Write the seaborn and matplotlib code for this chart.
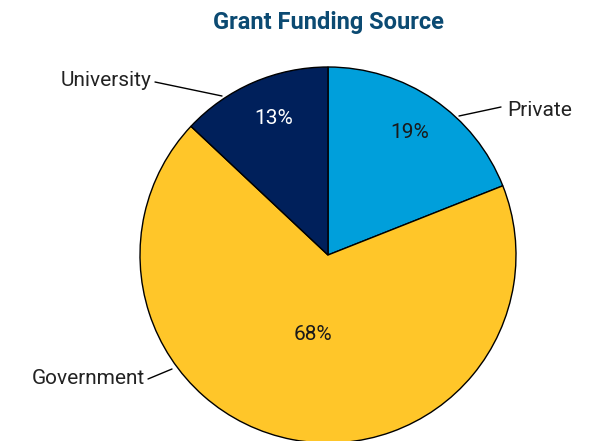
import matplotlib
matplotlib.use("Agg")
import matplotlib.pyplot as plt
import seaborn as sns

sns.set_theme(style="white")
plt.rcParams['font.family'] = ['Roboto', 'DejaVu Sans']

categories = ["Private", "Government", "University"]
values = [19, 68, 13]
pct_labels = ["19%", "68%", "13%"]
colors = sns.color_palette(["#009fdb", "#ffc629", "#00205b"])
title = "Grant Funding Source"

W, H = 606, 441
cx, cy, R = 328, 255, 188

fig = plt.figure(figsize=(W / 100, H / 100), dpi=100)
ax = fig.add_axes([0, 0, 1, 1])
wedges, _ = ax.pie(values, colors=colors, startangle=90, counterclock=False,
                   radius=1, wedgeprops=dict(edgecolor="black", linewidth=1.0))
ax.set_aspect("auto")
ax.set_xlim(-cx / R, (W - cx) / R)
ax.set_ylim(-(H - cy) / R, cy / R)
ax.axis("off")

def d(px, py):
    return ((px - cx) / R, (cy - py) / R)

# percentage labels
pct_pos = [d(410, 133), d(313, 335), d(274, 118)]
pct_col = ["#1a1a1a", "#1a1a1a", "white"]
for t, p, c in zip(pct_labels, pct_pos, pct_col):
    ax.text(p[0], p[1], t, ha="center", va="center", fontsize=15,
            fontweight="normal", color=c)

# category labels with leader lines
lab = {
    "Private": (d(507, 110), d(501, 107), d(459, 116), "left"),
    "Government": (d(145, 379), d(148, 379), d(172, 369), "right"),
    "University": (d(152, 80), d(155, 82), d(222, 96), "right"),
}
for name in categories:
    tp, l0, l1, ha = lab[name]
    ax.plot([l0[0], l1[0]], [l0[1], l1[1]], color="black", lw=1.0)
    ax.text(tp[0], tp[1], name, ha=ha, va="center", fontsize=15,
            fontweight="normal", color="#222222")

fig.text(cx / W, 1 - 22 / H, title, ha="center", va="center", fontsize=17,
         fontweight="bold", fontstretch="condensed", color="#0b4a72")

fig.savefig("out.png", dpi=100)
